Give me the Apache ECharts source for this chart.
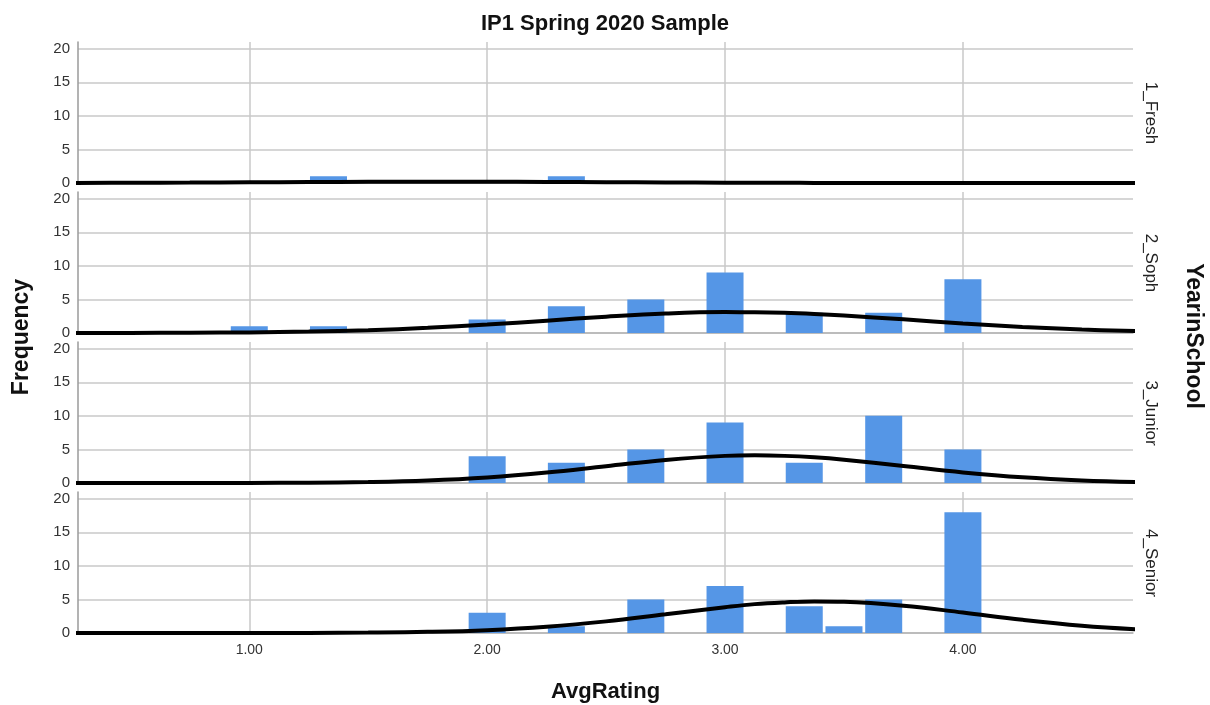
<!DOCTYPE html>
<html>
<head>
<meta charset="utf-8">
<script src="https://cdn.jsdelivr.net/npm/echarts@6/dist/echarts.min.js"></script>
<style>html,body{margin:0;padding:0;background:#fff;}#c{width:1210px;height:705px;}</style>
</head>
<body>
<div id="c"></div>
<script>
// ---- data ----
const titleText = 'IP1 Spring 2020 Sample';
const panelNames = ['1_Fresh', '2_Soph', '3_Junior', '4_Senior'];
const binX = [1.0, 1.333, 2.0, 2.333, 2.667, 3.0, 3.333, 3.5, 3.667, 4.0];
const freshCounts  = [0, 1, 0, 1, 0, 0, 0, 0, 0, 0];
const sophCounts   = [1, 1, 2, 4, 5, 9, 3, 0, 3, 8];
const juniorCounts = [0, 0, 4, 3, 5, 9, 3, 0, 10, 5];
const seniorCounts = [0, 0, 3, 1, 5, 7, 4, 1, 5, 18];
// normal-curve heights read at these ratings
const curveX = [0.25, 0.5, 0.75, 1.0, 1.25, 1.5, 1.75, 2.0, 2.25, 2.5, 2.75, 3.0, 3.125, 3.25, 3.375, 3.5, 3.75, 4.0, 4.25, 4.5, 4.75];
const freshCurve  = [0.015, 0.032, 0.058, 0.094, 0.134, 0.168, 0.187, 0.183, 0.158, 0.120, 0.081, 0.048, 0.036, 0.025, 0.018, 0.012, 0.005, 0.002, 0.001, 0, 0];
const sophCurve   = [0.004, 0.013, 0.037, 0.093, 0.209, 0.42, 0.765, 1.25, 1.84, 2.43, 2.90, 3.11, 3.09, 3.00, 2.83, 2.60, 2.03, 1.43, 0.905, 0.516, 0.264];
const juniorCurve = [0, 0.001, 0.003, 0.013, 0.048, 0.145, 0.373, 0.824, 1.55, 2.50, 3.44, 4.04, 4.12, 4.04, 3.82, 3.46, 2.53, 1.58, 0.84, 0.38, 0.148];
const seniorCurve = [0, 0, 0.001, 0.004, 0.017, 0.057, 0.168, 0.425, 0.93, 1.73, 2.79, 3.84, 4.30, 4.56, 4.70, 4.65, 4.07, 3.05, 1.97, 1.09, 0.52];
const xTicks = [1, 2, 3, 4];
const yTicks = [0, 5, 10, 15, 20];
const xName = 'AvgRating';
const yName = 'Frequency';
const facetName = 'YearinSchool';

const countsAll = [freshCounts, sophCounts, juniorCounts, seniorCounts];
const curvesAll = [freshCurve, sophCurve, juniorCurve, seniorCurve];

// ---- layout ----
const L = 78, W = 1055, T0 = 42, STEP = 150, H = 141;
const grids = [], xAxes = [], yAxes = [], series = [], graphics = [];
for (let i = 0; i < 4; i++) {
  grids.push({ left: L, top: T0 + STEP * i, width: W, height: H });
  xAxes.push({
    type: 'value', gridIndex: i, min: 0.28, max: 4.715,
    axisLine: { show: true, onZero: false, lineStyle: { color: '#b4b4b4', width: 1.5 } },
    axisTick: { show: false, customValues: xTicks },
    axisLabel: {
      show: i === 3, customValues: xTicks, formatter: v => v.toFixed(2),
      fontFamily: 'Liberation Sans Narrow, Liberation Sans', fontSize: 14, color: '#333', margin: 10
    },
    splitLine: { show: true, lineStyle: { color: '#c8c8c8', width: 1.5 } },
    name: i === 3 ? xName : '', nameLocation: 'middle', nameGap: 48,
    nameTextStyle: { fontFamily: 'Liberation Sans', fontWeight: 'bold', fontSize: 22, color: '#111' }
  });
  yAxes.push({
    type: 'value', gridIndex: i, min: 0, max: 21,
    axisLine: { show: true, lineStyle: { color: '#9a9a9a', width: 1.5 } },
    axisTick: { show: false, customValues: yTicks },
    axisLabel: { customValues: yTicks, fontFamily: 'Liberation Sans', fontSize: 15, color: '#333', margin: 8 },
    splitLine: { show: true, lineStyle: { color: '#c8c8c8', width: 1.5 } }
  });
  const barData = [];
  countsAll[i].forEach((c, k) => { if (c > 0) barData.push([binX[k], c]); });
  series.push({
    type: 'bar', xAxisIndex: i, yAxisIndex: i, data: barData, barWidth: 37,
    itemStyle: { color: '#5596e6' }, silent: true, z: 2
  });
  series.push({
    type: 'line', xAxisIndex: i, yAxisIndex: i, smooth: 0.4, symbol: 'none',
    data: curveX.map((x, k) => [x, curvesAll[i][k]]),
    lineStyle: { color: '#000', width: 4 }, silent: true, z: 3, clip: true
  });
  graphics.push({
    type: 'text', x: 1151, y: T0 + STEP * i + 71, rotation: -Math.PI / 2,
    style: { text: panelNames[i], fontFamily: 'Liberation Sans', fontSize: 17, fill: '#222', align: 'center', verticalAlign: 'middle' }
  });
}
graphics.push({
  type: 'text', x: 22, y: 337, rotation: Math.PI / 2,
  style: { text: yName, fontFamily: 'Liberation Sans', fontWeight: 'bold', fontSize: 23, fill: '#111', align: 'center', verticalAlign: 'middle' }
});
graphics.push({
  type: 'text', x: 1193, y: 336, rotation: -Math.PI / 2,
  style: { text: facetName, fontFamily: 'Liberation Sans', fontWeight: 'bold', fontSize: 23, fill: '#111', align: 'center', verticalAlign: 'middle' }
});

const chart = echarts.init(document.getElementById('c'), null, { renderer: 'canvas' });
chart.setOption({
  animation: false,
  backgroundColor: '#fff',
  title: {
    text: titleText, left: 'center', top: 8,
    textStyle: { fontFamily: 'Liberation Sans', fontWeight: 'bold', fontSize: 22, color: '#111' }
  },
  grid: grids, xAxis: xAxes, yAxis: yAxes, series: series, graphic: graphics
});
</script>
</body>
</html>
